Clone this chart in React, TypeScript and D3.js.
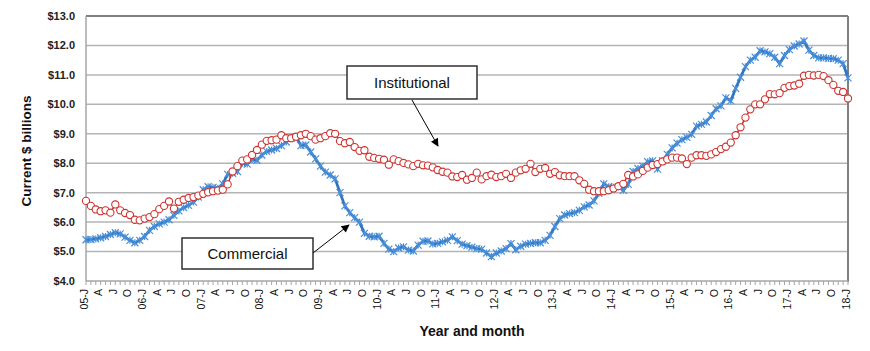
import React, { useEffect, useRef } from "react";
import * as d3 from "d3";

// Monthly categories, Jan 2005 .. Jan 2018
const years = ["05", "06", "07", "08", "09", "10", "11", "12", "13", "14", "15", "16", "17", "18"];
const monthInitials = ["J", "F", "M", "A", "M", "J", "J", "A", "S", "O", "N", "D"];
const categories = years.flatMap((yy, k) =>
  k === years.length - 1
    ? [`${yy}-J`]
    : monthInitials.map((m, j) => (j === 0 ? `${yy}-J` : `${yy}-${m}${j}`))
);
const tickText = (c: string) => (c.length === 4 ? c : c.slice(3, 4));

// $ billions, one row per year
const commercial = [
  5.40, 5.41, 5.43, 5.47, 5.51, 5.58, 5.64, 5.60, 5.49, 5.38, 5.30, 5.38,
  5.51, 5.72, 5.85, 5.94, 6.00, 6.08, 6.23, 6.38, 6.49, 6.57, 6.68, 6.85,
  7.10, 7.20, 7.18, 7.15, 7.30, 7.62, 7.66, 7.72, 8.00, 7.97, 8.12, 8.10,
  8.28, 8.40, 8.45, 8.50, 8.60, 8.72, 8.85, 8.90, 8.60, 8.62, 8.38, 8.15,
  7.90, 7.70, 7.60, 7.47, 7.00, 6.55, 6.32, 6.15, 6.00, 5.62, 5.52, 5.50,
  5.52, 5.28, 5.08, 5.00, 5.12, 5.16, 5.05, 5.02, 5.22, 5.35, 5.36, 5.26,
  5.28, 5.33, 5.38, 5.50, 5.37, 5.25, 5.20, 5.15, 5.10, 5.08, 4.95, 4.83,
  4.95, 5.02, 5.10, 5.27, 5.06, 5.18, 5.25, 5.28, 5.30, 5.30, 5.38, 5.55,
  5.85, 6.12, 6.24, 6.29, 6.32, 6.40, 6.52, 6.58, 6.72, 6.98, 7.30, 7.20,
  7.18, 7.20, 7.08, 7.28, 7.72, 7.82, 7.90, 8.05, 8.08, 7.80, 8.08, 8.30,
  8.52, 8.68, 8.80, 8.88, 8.98, 9.26, 9.32, 9.40, 9.62, 9.85, 9.95, 10.22,
  10.12, 10.54, 10.92, 11.28, 11.50, 11.60, 11.82, 11.78, 11.72, 11.60, 11.38, 11.66,
  11.86, 11.98, 12.05, 12.15, 11.84, 11.66, 11.58, 11.58, 11.56, 11.55, 11.50, 11.38,
  10.90,
];

const institutional = [
  6.72, 6.55, 6.43, 6.37, 6.40, 6.32, 6.60, 6.40, 6.31, 6.24, 6.08, 6.06,
  6.12, 6.17, 6.27, 6.44, 6.55, 6.70, 6.46, 6.69, 6.76, 6.82, 6.85, 6.90,
  6.96, 7.01, 7.05, 7.07, 7.10, 7.28, 7.72, 7.90, 8.09, 8.13, 8.28, 8.45,
  8.63, 8.76, 8.78, 8.80, 8.95, 8.85, 8.85, 8.90, 8.95, 9.00, 8.92, 8.80,
  8.85, 8.92, 9.02, 9.00, 8.75, 8.68, 8.72, 8.55, 8.42, 8.44, 8.22, 8.18,
  8.15, 8.12, 7.95, 8.13, 8.07, 8.01, 7.96, 7.90, 7.98, 7.93, 7.92, 7.86,
  7.77, 7.71, 7.68, 7.55, 7.53, 7.60, 7.44, 7.50, 7.68, 7.45, 7.56, 7.61,
  7.53, 7.56, 7.64, 7.50, 7.68, 7.76, 7.81, 7.98, 7.70, 7.81, 7.84, 7.64,
  7.70, 7.59, 7.56, 7.56, 7.56, 7.42, 7.30, 7.10, 7.05, 7.05, 7.05, 7.08,
  7.14, 7.22, 7.30, 7.60, 7.55, 7.62, 7.74, 7.85, 7.94, 7.97, 8.06, 8.13,
  8.19, 8.19, 8.16, 7.97, 8.19, 8.27, 8.27, 8.25, 8.30, 8.38, 8.48, 8.56,
  8.70, 8.95, 9.22, 9.55, 9.83, 10.00, 10.00, 10.17, 10.35, 10.34, 10.38, 10.56,
  10.62, 10.64, 10.70, 10.97, 11.00, 10.98, 11.00, 10.96, 10.82, 10.66, 10.46, 10.42,
  10.20,
];

const yTicks = [4, 5, 6, 7, 8, 9, 10, 11, 12, 13];

const FONT = "'Liberation Sans', Arial, sans-serif";

function Chart() {
  const svgRef = useRef<SVGSVGElement>(null);
  const width = 870;
  const height = 351;

  useEffect(() => {
    const svg = d3.select(svgRef.current);
    svg.selectAll("*").remove();

    const plot = { left: 86, right: 848, top: 16, bottom: 281 };

    const x = d3.scalePoint<string>().domain(categories).range([plot.left, plot.right]);
    const y = d3.scaleLinear().domain([4, 13]).range([plot.bottom, plot.top]);

    const defs = svg.append("defs");
    defs
      .append("marker")
      .attr("id", "arrow")
      .attr("viewBox", "0 0 10 10")
      .attr("refX", 9)
      .attr("refY", 5)
      .attr("markerWidth", 10)
      .attr("markerHeight", 8)
      .attr("markerUnits", "userSpaceOnUse")
      .attr("orient", "auto")
      .append("path")
      .attr("d", "M0,0 L10,5 L0,10 z")
      .attr("fill", "#000");

    // gridlines
    svg
      .append("g")
      .selectAll("line")
      .data(yTicks.filter((t) => t > 4 && t < 13))
      .join("line")
      .attr("x1", plot.left)
      .attr("x2", plot.right)
      .attr("y1", (d) => y(d))
      .attr("y2", (d) => y(d))
      .attr("stroke", "#b4b4b4")
      .attr("stroke-width", 1.5);

    // frame
    svg
      .append("line")
      .attr("x1", plot.left)
      .attr("x2", plot.right)
      .attr("y1", y(13))
      .attr("y2", y(13))
      .attr("stroke", "#000")
      .attr("stroke-width", 1);
    svg
      .append("line")
      .attr("x1", plot.right)
      .attr("x2", plot.right)
      .attr("y1", plot.top)
      .attr("y2", plot.bottom + 1)
      .attr("stroke", "#808080")
      .attr("stroke-width", 2);
    svg
      .append("line")
      .attr("x1", plot.left)
      .attr("x2", plot.left)
      .attr("y1", plot.top)
      .attr("y2", plot.bottom)
      .attr("stroke", "#a6a6a6")
      .attr("stroke-width", 1.5);
    svg
      .append("line")
      .attr("x1", plot.left)
      .attr("x2", plot.right)
      .attr("y1", plot.bottom)
      .attr("y2", plot.bottom)
      .attr("stroke", "#a6a6a6")
      .attr("stroke-width", 1.5);

    // monthly ticks
    svg
      .append("g")
      .selectAll("line")
      .data(categories)
      .join("line")
      .attr("x1", (d) => x(d)!)
      .attr("x2", (d) => x(d)!)
      .attr("y1", plot.bottom)
      .attr("y2", plot.bottom + 4)
      .attr("stroke", "#a6a6a6")
      .attr("stroke-width", 1);

    // y tick labels
    svg
      .append("g")
      .selectAll("text")
      .data(yTicks)
      .join("text")
      .attr("x", 75)
      .attr("y", (d) => y(d))
      .attr("dy", "0.35em")
      .attr("text-anchor", "end")
      .style("font-family", FONT)
      .style("font-size", "11px")
      .style("font-weight", "bold")
      .style("fill", "#222")
      .text((d) => `$${d.toFixed(1)}`);

    // x tick labels (quarterly)
    svg
      .append("g")
      .selectAll("text")
      .data(categories.filter((c, i) => i % 3 === 0))
      .join("text")
      .attr("transform", (d) => `translate(${x(d)! + 1.5},${plot.bottom + 8}) rotate(-90)`)
      .attr("text-anchor", "end")
      .style("font-family", FONT)
      .style("font-size", "10.5px")
      .style("fill", "#111")
      .text((d) => tickText(d));

    // axis titles
    svg
      .append("text")
      .attr("transform", `translate(31,151) rotate(-90)`)
      .attr("text-anchor", "middle")
      .style("font-family", FONT)
      .style("font-size", "13.5px")
      .style("font-weight", "bold")
      .style("fill", "#111")
      .text("Current $ billions");

    svg
      .append("text")
      .attr("x", 472)
      .attr("y", 336)
      .attr("text-anchor", "middle")
      .style("font-family", FONT)
      .style("font-size", "14px")
      .style("font-weight", "bold")
      .style("fill", "#111")
      .text("Year and month");

    const line = d3
      .line<number>()
      .x((d, i) => x(categories[i])!)
      .y((d) => y(d));

    // Commercial
    svg
      .append("path")
      .datum(commercial)
      .attr("d", line)
      .attr("fill", "none")
      .attr("stroke", "#2e75c0")
      .attr("stroke-width", 2.75);

    const s = 3.5;
    svg
      .append("g")
      .selectAll("path")
      .data(commercial)
      .join("path")
      .attr("transform", (d, i) => `translate(${x(categories[i])},${y(d)})`)
      .attr("d", `M${-s},${-s}L${s},${s}M${-s},${s}L${s},${-s}M0,${-s}L0,${s}`)
      .attr("stroke", "#4a8fd8")
      .attr("stroke-width", 1.2)
      .attr("fill", "none");

    // Institutional
    svg
      .append("path")
      .datum(institutional)
      .attr("d", line)
      .attr("fill", "none")
      .attr("stroke", "#c0302c")
      .attr("stroke-width", 1.5);

    svg
      .append("g")
      .selectAll("circle")
      .data(institutional)
      .join("circle")
      .attr("cx", (d, i) => x(categories[i])!)
      .attr("cy", (d) => y(d))
      .attr("r", 3.6)
      .attr("fill", "#fff")
      .attr("stroke", "#cc3330")
      .attr("stroke-width", 1.1);

    // callouts
    const callouts = [
      { label: "Institutional", box: [347, 66, 130, 33], from: [412, 100], to: [438, 146] },
      { label: "Commercial", box: [182, 238, 131, 31], from: [313, 253], to: [349, 225] },
    ];
    callouts.forEach((c) => {
      svg
        .append("line")
        .attr("x1", c.from[0])
        .attr("y1", c.from[1])
        .attr("x2", c.to[0])
        .attr("y2", c.to[1])
        .attr("stroke", "#000")
        .attr("stroke-width", 1)
        .attr("marker-end", "url(#arrow)");
      svg
        .append("rect")
        .attr("x", c.box[0])
        .attr("y", c.box[1])
        .attr("width", c.box[2])
        .attr("height", c.box[3])
        .attr("fill", "#fff")
        .attr("stroke", "#222")
        .attr("stroke-width", 1.4);
      svg
        .append("text")
        .attr("x", c.box[0] + c.box[2] / 2)
        .attr("y", c.box[1] + c.box[3] / 2)
        .attr("dy", "0.35em")
        .attr("text-anchor", "middle")
        .style("font-family", FONT)
        .style("font-size", "15px")
        .style("fill", "#111")
        .text(c.label);
    });
  }, []);

  return (
    <svg
      ref={svgRef}
      width={width}
      height={height}
      style={{ position: "absolute", left: 0, top: 0, background: "#fff" }}
    ></svg>
  );
}

export default function App() {
  return <Chart />;
}
